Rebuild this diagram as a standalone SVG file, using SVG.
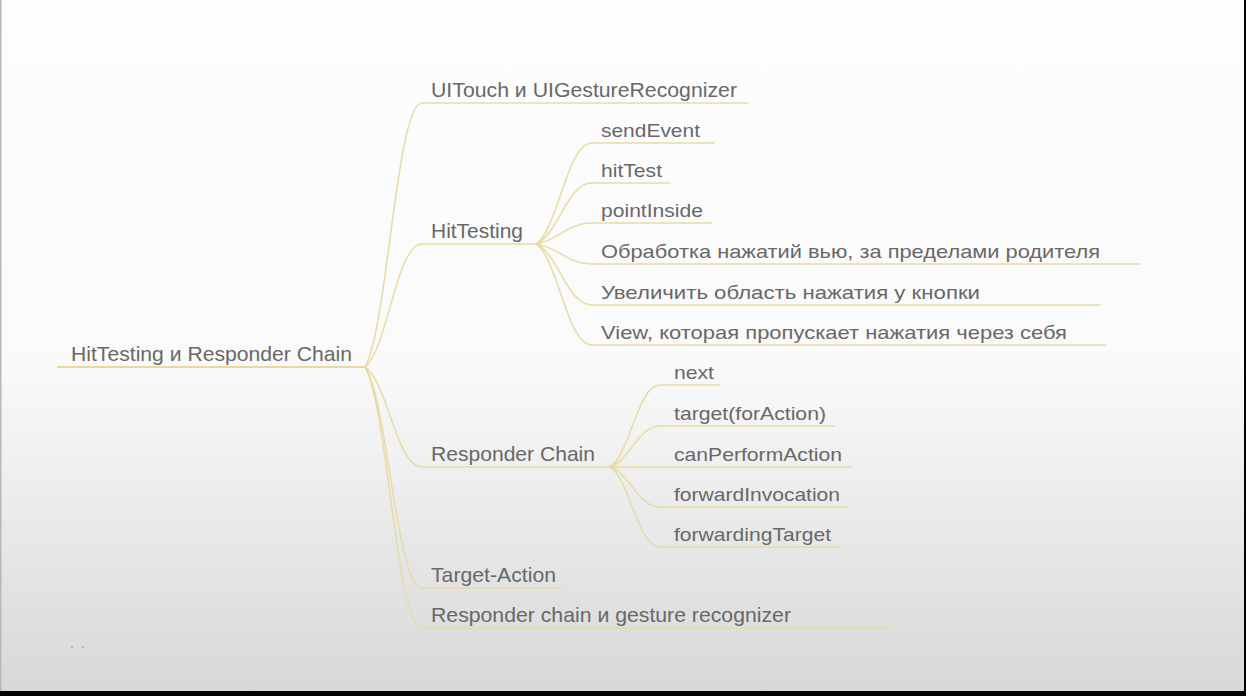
<svg xmlns="http://www.w3.org/2000/svg" width="1246" height="696" viewBox="0 0 1246 696">
<defs>
<linearGradient id="bg" x1="0" y1="0" x2="0" y2="1">
<stop offset="0" stop-color="#fdfdfd"/>
<stop offset="0.52" stop-color="#fafafa"/>
<stop offset="0.66" stop-color="#f0f0f0"/>
<stop offset="1" stop-color="#d7d7d7"/>
</linearGradient>
<style>
text{font-family:"Liberation Sans",Arial,"Noto Sans",sans-serif;fill:#686868}
.l0{font-size:21px}
.l1{font-size:21px}
.l2{font-size:19px}
.ln{fill:none;stroke:#e7dca2;stroke-width:1.5;stroke-linecap:round}
.root{fill:none;stroke:#e8d9a0;stroke-width:2.2;stroke-linecap:round}
</style>
</defs>
<rect x="0" y="0" width="1246" height="696" fill="url(#bg)"/>
<rect x="0" y="0" width="1.5" height="691" fill="#b8b8b8"/>
<rect x="0" y="691" width="1246" height="5" fill="#000"/>
<rect x="1244" y="0" width="2" height="696" fill="#000"/>
<circle cx="72" cy="647" r="1.1" fill="#b0b0b0"/>
<circle cx="83" cy="647" r="1.1" fill="#b0b0b0"/>

<g id="connectors">
<path class="ln" d="M365,367 C387.8,327.4 396.4,103 422,103"/>
<path class="ln" d="M365,367 C387.8,348.6 396.4,244 422,244"/>
<path class="ln" d="M365,367 C387.8,382 396.4,467 422,467"/>
<path class="ln" d="M365,367 C387.8,400.2 396.4,588 422,588"/>
<path class="ln" d="M365,367 C387.8,406.2 396.4,628 422,628"/>
<path class="ln" d="M536,244 C558.4,228.85 566.8,143 592,143"/>
<path class="ln" d="M536,244 C558.4,234.85 566.8,183 592,183"/>
<path class="ln" d="M536,244 C558.4,240.85 566.8,223 592,223"/>
<path class="ln" d="M536,244 C558.4,247 566.8,264 592,264"/>
<path class="ln" d="M536,244 C558.4,253.15 566.8,305 592,305"/>
<path class="ln" d="M536,244 C558.4,259.15 566.8,345 592,345"/>
<path class="ln" d="M610,467 C630,454.7 637.5,385 660,385"/>
<path class="ln" d="M610,467 C630,460.85 637.5,426 660,426"/>
<path class="ln" d="M610,467 L660,467"/>
<path class="ln" d="M610,467 C630,473 637.5,507 660,507"/>
<path class="ln" d="M610,467 C630,479 637.5,547 660,547"/>
</g>

<g id="root">
<path class="root" d="M58,367 L365,367"/>
<text class="l0" x="71" y="361" textLength="281" lengthAdjust="spacingAndGlyphs">HitTesting и Responder Chain</text>
</g>

<g id="n-uitouch">
<path class="ln" d="M422,103 L748,103"/>
<text class="l1" x="431" y="97" textLength="306" lengthAdjust="spacingAndGlyphs">UITouch и UIGestureRecognizer</text>
</g>
<g id="n-hittesting">
<path class="ln" d="M422,244 L536,244"/>
<text class="l1" x="431" y="238" textLength="92" lengthAdjust="spacingAndGlyphs">HitTesting</text>
</g>
<g id="n-responder">
<path class="ln" d="M422,467 L610,467"/>
<text class="l1" x="431" y="461" textLength="164" lengthAdjust="spacingAndGlyphs">Responder Chain</text>
</g>
<g id="n-targetaction">
<path class="ln" d="M422,588 L562,588"/>
<text class="l1" x="431" y="582" textLength="125" lengthAdjust="spacingAndGlyphs">Target-Action</text>
</g>
<g id="n-respgesture">
<path class="ln" d="M422,628 L890,628"/>
<text class="l1" x="431" y="622" textLength="360" lengthAdjust="spacingAndGlyphs">Responder chain и gesture recognizer</text>
</g>

<g id="n-sendevent">
<path class="ln" d="M592,143 L714,143"/>
<text class="l2" x="601" y="137" textLength="99" lengthAdjust="spacingAndGlyphs">sendEvent</text>
</g>
<g id="n-hittest">
<path class="ln" d="M592,183 L670,183"/>
<text class="l2" x="601" y="177" textLength="61" lengthAdjust="spacingAndGlyphs">hitTest</text>
</g>
<g id="n-pointinside">
<path class="ln" d="M592,223 L711,223"/>
<text class="l2" x="601" y="217" textLength="102" lengthAdjust="spacingAndGlyphs">pointInside</text>
</g>
<g id="n-outside">
<path class="ln" d="M592,264 L1140,264"/>
<text class="l2" x="601" y="258" textLength="499" lengthAdjust="spacingAndGlyphs">Обработка нажатий вью, за пределами родителя</text>
</g>
<g id="n-enlarge">
<path class="ln" d="M592,305 L1100,305"/>
<text class="l2" x="601" y="299" textLength="379" lengthAdjust="spacingAndGlyphs">Увеличить область нажатия у кнопки</text>
</g>
<g id="n-passthrough">
<path class="ln" d="M592,345 L1106,345"/>
<text class="l2" x="601" y="339" textLength="466" lengthAdjust="spacingAndGlyphs">View, которая пропускает нажатия через себя</text>
</g>

<g id="n-next">
<path class="ln" d="M660,385 L720,385"/>
<text class="l2" x="674" y="379" textLength="40" lengthAdjust="spacingAndGlyphs">next</text>
</g>
<g id="n-target">
<path class="ln" d="M660,426 L834,426"/>
<text class="l2" x="674" y="420" textLength="152" lengthAdjust="spacingAndGlyphs">target(forAction)</text>
</g>
<g id="n-canperform">
<path class="ln" d="M660,467 L852,467"/>
<text class="l2" x="674" y="461" textLength="168" lengthAdjust="spacingAndGlyphs">canPerformAction</text>
</g>
<g id="n-forwardinv">
<path class="ln" d="M660,507 L848,507"/>
<text class="l2" x="674" y="501" textLength="166" lengthAdjust="spacingAndGlyphs">forwardInvocation</text>
</g>
<g id="n-forwardingtarget">
<path class="ln" d="M660,547 L839,547"/>
<text class="l2" x="674" y="541" textLength="157" lengthAdjust="spacingAndGlyphs">forwardingTarget</text>
</g>
</svg>
